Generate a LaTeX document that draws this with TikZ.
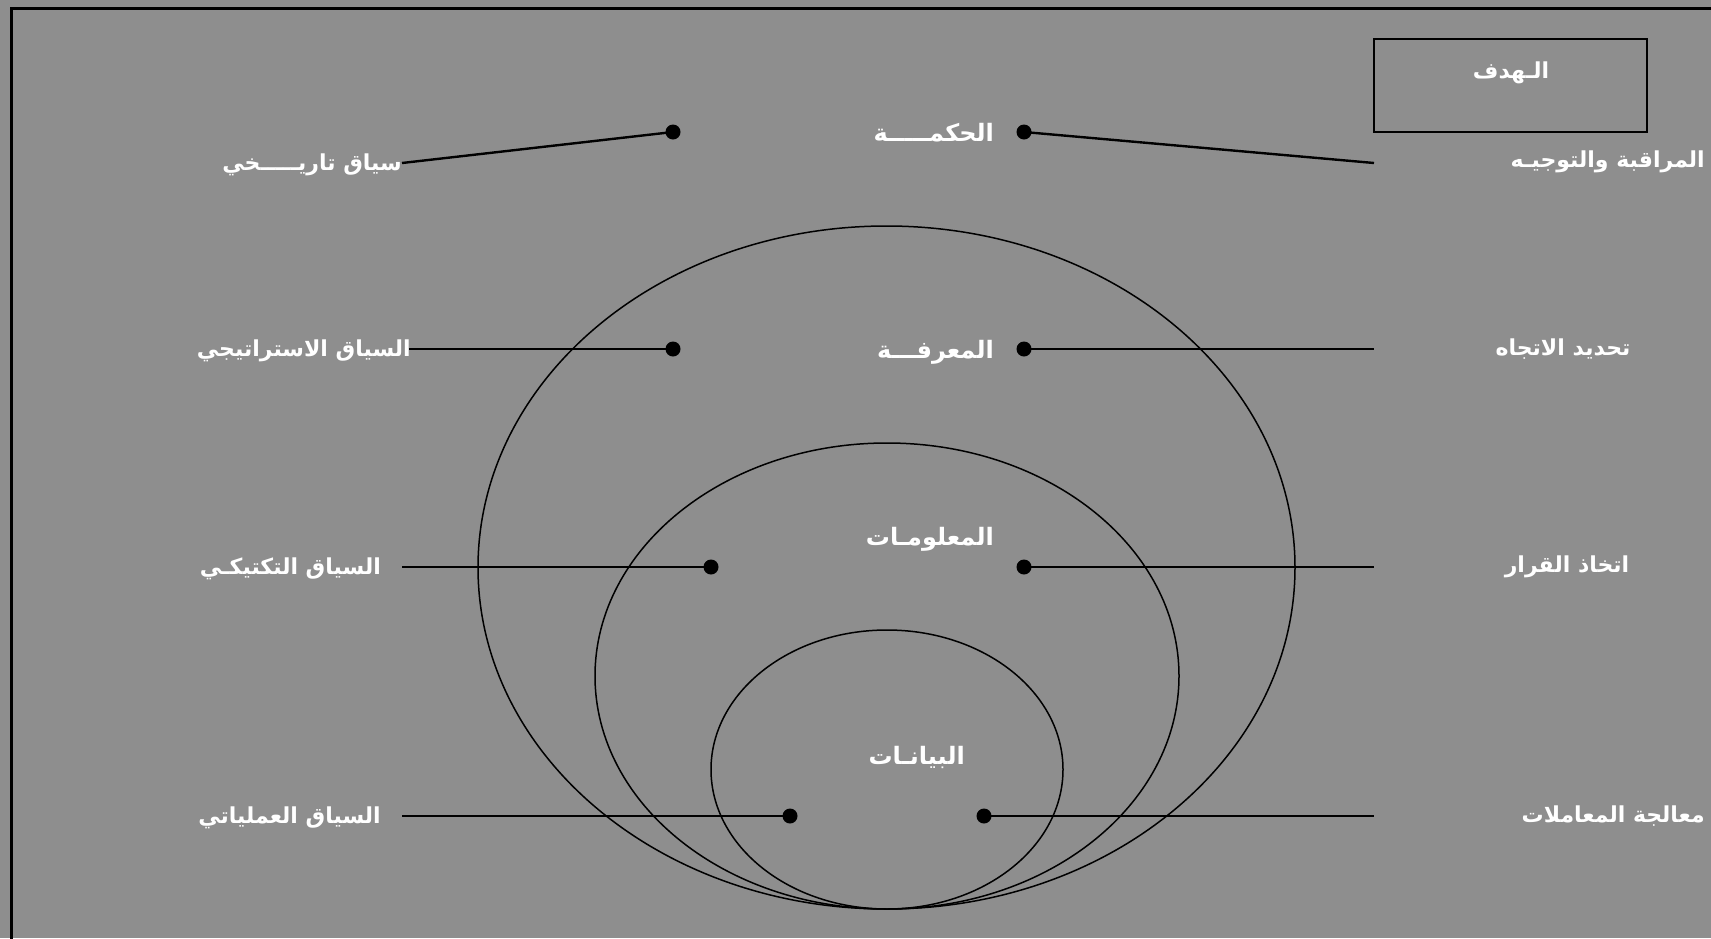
\documentclass[tikz,border=0pt]{standalone}
\usepackage{fontspec}
\TeXXeTstate=1
\newfontfamily\arabicfont[Script=Arabic]{DejaVu Sans}
\definecolor{bggray}{RGB}{142,142,142}
\tikzset{
  lbl/.style={text=white, font=\arabicfont\bfseries\fontsize{22}{26}\selectfont, inner sep=0pt},
  midlbl/.style={lbl, anchor=east, font=\arabicfont\bfseries\fontsize{24}{28}\selectfont},
  dotn/.style={circle, fill=black, minimum size=15pt, inner sep=0pt},
  conn/.style={line width=2.4pt},
  ring/.style={line width=1.5pt},
}
\begin{document}
\begin{tikzpicture}[x=1pt,y=-1pt]
\useasboundingbox (0,0) rectangle (1711,938);
\fill[bggray] (0,0) rectangle (1711,938);
\draw[line width=3pt] (11,8) rectangle (1730,960);
% ellipses
\draw[ring] (886.5,567.5) ellipse [x radius=408.5, y radius=341.5];
\draw[ring] (887,676) ellipse [x radius=292, y radius=233];
\draw[ring] (887,769.5) ellipse [x radius=176, y radius=139.5];
% goal box
\node[draw, line width=1.5pt, minimum width=273pt, minimum height=93pt] (goal) at (1510.5,85.5) {};
\node[lbl] (goaltxt) at (1511,73) {\beginR الـهدف\endR};
% central labels
\node[midlbl] (wis) at (994,133) {\beginR الحكمـــــة\endR};
\node[midlbl] (kno) at (994,352) {\beginR المعرفـــة\endR};
\node[midlbl] (inf) at (994,539) {\beginR المعلومـات\endR};
\node[midlbl] (dat) at (965,757) {\beginR البيانـات\endR};
% left labels
\node[lbl, anchor=east] (l1) at (402,165) {\beginR سياق تاريـــــخي\endR};
\node[lbl, anchor=east] (l2) at (411,351) {\beginR السياق الاستراتيجي\endR};
\node[lbl, anchor=east] (l3) at (381,569) {\beginR السياق التكتيكـي\endR};
\node[lbl, anchor=east] (l4) at (381,818) {\beginR السياق العملياتي\endR};
% right labels
\node[lbl, anchor=east] (r1) at (1705,162) {\beginR المراقبة والتوجيـه\endR};
\node[lbl] (r2) at (1563,349) {\beginR تحديد الاتجاه\endR};
\node[lbl] (r3) at (1567,567) {\beginR اتخاذ القرار\endR};
\node[lbl, anchor=east] (r4) at (1705,816) {\beginR معالجة المعاملات\endR};
% dots
\node[dotn] (d1l) at (673,132) {};
\node[dotn] (d1r) at (1024,132) {};
\node[dotn] (d2l) at (673,349) {};
\node[dotn] (d2r) at (1024,349) {};
\node[dotn] (d3l) at (711,567) {};
\node[dotn] (d3r) at (1024,567) {};
\node[dotn] (d4l) at (790,816) {};
\node[dotn] (d4r) at (984,816) {};
% free ends
\coordinate (e1l) at (402,163);
\coordinate (e1r) at (1374,163);
\coordinate (e2l) at (409,349);
\coordinate (e2r) at (1374,349);
\coordinate (e3l) at (402,567);
\coordinate (e3r) at (1374,567);
\coordinate (e4l) at (402,816);
\coordinate (e4r) at (1374,816);
% connectors
\draw[conn] (e1l) -- (d1l.center);
\draw[conn] (d1r.center) -- (e1r);
\draw[conn] (e2l) -- (d2l.center);
\draw[conn] (d2r.center) -- (e2r);
\draw[conn] (e3l) -- (d3l.center);
\draw[conn] (d3r.center) -- (e3r);
\draw[conn] (e4l) -- (d4l.center);
\draw[conn] (d4r.center) -- (e4r);
\end{tikzpicture}
\end{document}
